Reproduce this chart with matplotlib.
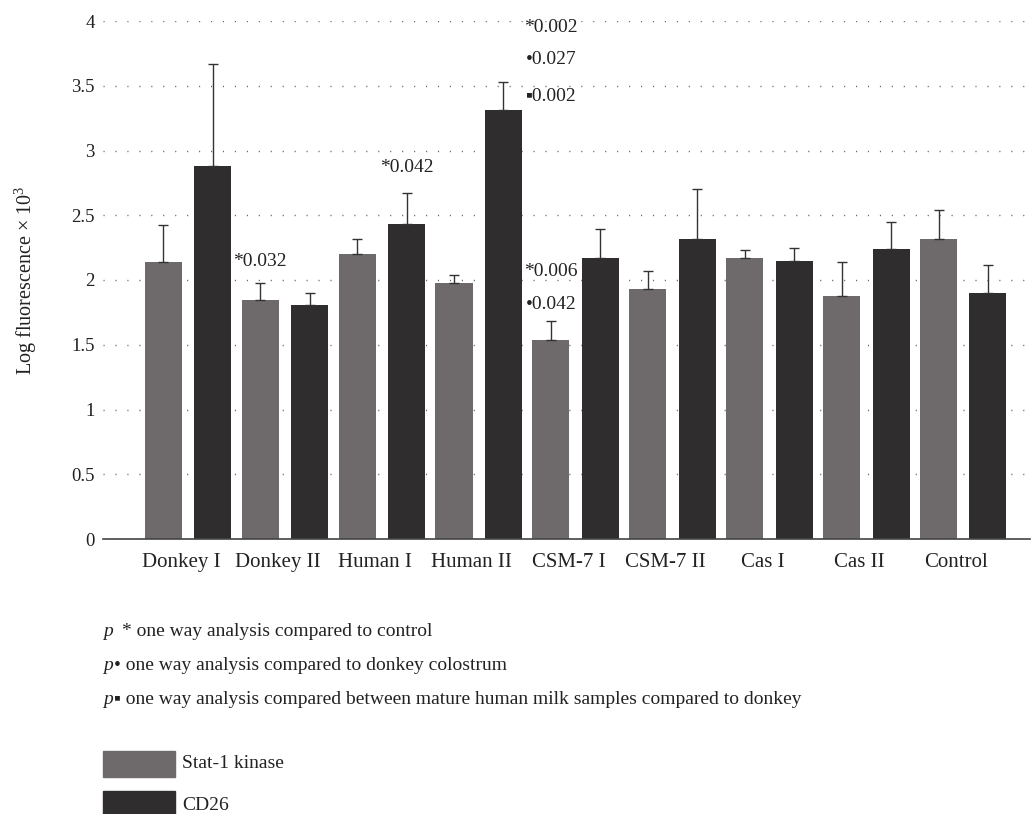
import numpy as np
import matplotlib.pyplot as plt
from matplotlib.patches import Rectangle

plt.rcParams['font.family'] = ['Liberation Serif', 'DejaVu Serif']
plt.rcParams['mathtext.fontset'] = 'custom'
plt.rcParams['mathtext.rm'] = 'Liberation Serif'
plt.rcParams['mathtext.it'] = 'Liberation Serif:italic'

categories = ['Donkey I', 'Donkey II', 'Human I', 'Human II', 'CSM-7 I',
              'CSM-7 II', 'Cas I', 'Cas II', 'Control']
stat1 = [2.14, 1.845, 2.20, 1.977, 1.537, 1.93, 2.17, 1.876, 2.32]
stat1_err = [0.285, 0.135, 0.12, 0.063, 0.143, 0.14, 0.064, 0.264, 0.223]
cd26 = [2.88, 1.807, 2.43, 3.31, 2.17, 2.32, 2.147, 2.24, 1.90]
cd26_err = [0.79, 0.093, 0.24, 0.22, 0.226, 0.385, 0.103, 0.208, 0.218]

# p-value notes: (group, series, y, text)
notes = [
    (1, 'stat', 2.14, '*0.032'),
    (2, 'cd', 2.87, '*0.042'),
    (4, 'stat', 3.95, '*0.002'),
    (4, 'stat', 3.70, '\u20220.027'),
    (4, 'stat', 3.42, '\u25aa0.002'),
    (4, 'stat', 2.064, '*0.006'),
    (4, 'stat', 1.81, '\u20220.042'),
]

c_stat = '#6e6a6b'
c_cd = '#2f2d2e'

fig = plt.figure(figsize=(10.32, 8.14), dpi=100)
ax = fig.add_axes([103/1032, 275/814, 927/1032, 518/814])

x = np.arange(len(categories))
off = 0.255
w = 0.382

ax.bar(x - off, stat1, w, color=c_stat, zorder=2)
ax.bar(x + off, cd26, w, color=c_cd, zorder=2)
ax.errorbar(x - off, stat1, yerr=[np.zeros(len(x)), stat1_err], fmt='none',
            ecolor='#333333', elinewidth=1, capsize=3.5, capthick=1, zorder=3)
ax.errorbar(x + off, cd26, yerr=[np.zeros(len(x)), cd26_err], fmt='none',
            ecolor='#333333', elinewidth=1, capsize=3.5, capthick=1, zorder=3)

for g, s, y, t in notes:
    xx = g - off if s == 'stat' else g + off
    ax.text(xx, y, t, ha='center', va='center', fontsize=14, color='#222222')

ax.set_xlim(-0.877, 8.689)
ax.set_ylim(0, 4)
yt = np.arange(0, 4.01, 0.5)
ax.set_yticks(yt)
ax.set_yticklabels([f'{v:g}' for v in yt])
ax.set_xticks(x - 0.07)
ax.set_xticklabels(categories)
ax.tick_params(axis='y', length=0, pad=6, labelsize=13.5, labelcolor='#222222')
ax.tick_params(axis='x', length=0, pad=10, labelsize=15, labelcolor='#222222')

ax.yaxis.grid(True, linestyle=(0, (0.8, 7.8)), color='#666666', linewidth=1)
ax.set_axisbelow(True)
for sp in ['top', 'right', 'left']:
    ax.spines[sp].set_visible(False)
ax.spines['bottom'].set_color('#444444')
ax.spines['bottom'].set_linewidth(1.2)

fig.text(26/1032, 1 - 280/814, 'Log fluorescence \u00d7 10$^3$', rotation=90,
         ha='center', va='center', fontsize=14.5, color='#222222')

# footnotes
lines = [(636, 122, '* one way analysis compared to control'),
         (670, 114, '\u2022 one way analysis compared to donkey colostrum'),
         (704, 114, '\u25aa one way analysis compared between mature human milk samples compared to donkey')]
for yb, xs, t in lines:
    fig.text(103/1032, 1 - yb/814, 'p', style='italic', fontsize=14,
             va='baseline', ha='left', color='#222222')
    fig.text(xs/1032, 1 - yb/814, t, fontsize=14, va='baseline', ha='left',
             color='#222222')

# legend
fig.add_artist(Rectangle((103/1032, 1 - 777/814), 72/1032, 26/814,
                         transform=fig.transFigure, color=c_stat))
fig.add_artist(Rectangle((103/1032, 1 - 817/814), 72/1032, 26/814,
                         transform=fig.transFigure, color=c_cd))
fig.text(182/1032, 1 - 768/814, 'Stat-1 kinase', fontsize=14, va='baseline',
         color='#222222')
fig.text(182/1032, 1 - 810/814, 'CD26', fontsize=14, va='baseline',
         color='#222222')

fig.savefig('out.png', dpi=100)
